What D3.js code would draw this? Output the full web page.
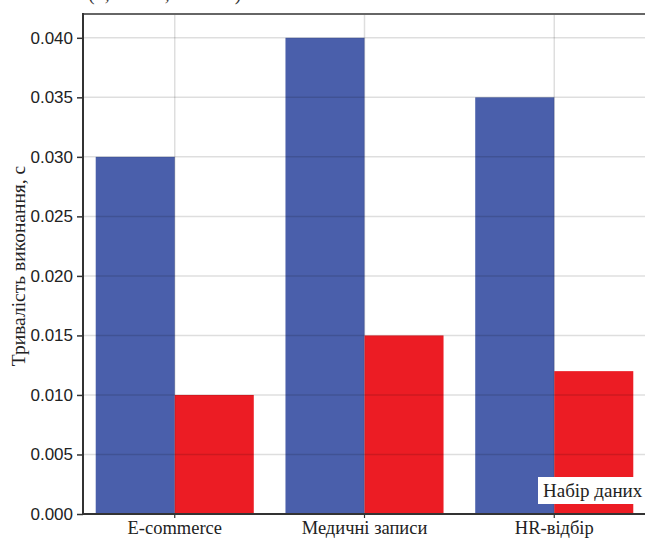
<!DOCTYPE html>
<html>
<head>
<meta charset="utf-8">
<script src="https://cdn.jsdelivr.net/npm/d3@7"></script>
<style>
  html, body { margin: 0; padding: 0; background: #fff; }
  svg { display: block; }
</style>
</head>
<body>
<svg id="chart" width="645" height="539"></svg>
<script>
const categories = ["E-commerce", "Медичні записи", "HR-відбір"];
const seriesNames = ["Оригінальний", "Оптимізований"];
const seriesA = [0.030, 0.040, 0.035];
const seriesB = [0.010, 0.015, 0.012];
const yTicks = [0.000, 0.005, 0.010, 0.015, 0.020, 0.025, 0.030, 0.035, 0.040];
const colors = ["#4a5fab", "#ec1c24"];
const titleText = "(1, 10000, 100000)";
const yLabel = "Тривалість виконання, с";
const legendTitle = "Набір даних";

(function () {
const svg = d3.select("#chart");
const pLeft = 83, pRight = 646, pTop = 14, pBottom = 514;

const x = d3.scaleBand().domain(categories).range([pLeft, pRight])
  .paddingInner(0.167).paddingOuter(0.067);
const xs = d3.scaleBand().domain(seriesNames).range([0, x.bandwidth()]);
const y = d3.scaleLinear().domain([0, 0.042]).range([pBottom, pTop]);

const data = categories.map((c, i) => ({ cat: c, vals: [seriesA[i], seriesB[i]] }));

// bars
const g = svg.append("g");
data.forEach(d => {
  d.vals.forEach((v, j) => {
    g.append("rect")
      .attr("x", x(d.cat) + xs(seriesNames[j]))
      .attr("y", y(v))
      .attr("width", xs.bandwidth())
      .attr("height", y(0) - y(v))
      .attr("fill", colors[j]);
  });
});

// grid on top of bars
const grid = svg.append("g").attr("stroke", "rgba(0,0,0,0.13)").attr("stroke-width", 1.5);
yTicks.forEach(t => {
  grid.append("line").attr("x1", pLeft).attr("x2", 645).attr("y1", y(t)).attr("y2", y(t));
});
categories.forEach(c => {
  const cx = x(c) + x.bandwidth() / 2;
  grid.append("line").attr("x1", cx).attr("x2", cx).attr("y1", pTop).attr("y2", pBottom);
});

// y axis
const yAxis = d3.axisLeft(y).tickValues(yTicks).tickFormat(d3.format(".3f")).tickSize(6).tickPadding(4);
const yg = svg.append("g").attr("transform", `translate(${pLeft},0)`).call(yAxis);
yg.select(".domain").remove();
yg.selectAll(".tick line").attr("stroke", "#333").attr("stroke-width", 1.5);
yg.selectAll(".tick text").attr("font-family", "Liberation Sans, Arial, sans-serif")
  .attr("font-size", 17).attr("fill", "#222");

// x axis
const xAxis = d3.axisBottom(x).tickSize(4).tickPadding(3);
const xg = svg.append("g").attr("transform", `translate(0,${pBottom})`).call(xAxis);
xg.select(".domain").remove();
xg.selectAll(".tick line").attr("stroke", "#333").attr("stroke-width", 1.2);
xg.selectAll(".tick text").attr("font-family", "Liberation Serif, Times New Roman, serif")
  .attr("font-size", 18.5).attr("fill", "#222");

// spines
svg.append("line").attr("x1", pLeft).attr("x2", 645).attr("y1", pTop).attr("y2", pTop)
  .attr("stroke", "#666").attr("stroke-width", 2);
svg.append("line").attr("x1", pLeft).attr("x2", pLeft).attr("y1", pTop - 1).attr("y2", pBottom + 1)
  .attr("stroke", "#333").attr("stroke-width", 2);
svg.append("line").attr("x1", pLeft).attr("x2", 645).attr("y1", pBottom).attr("y2", pBottom)
  .attr("stroke", "#333").attr("stroke-width", 2);

// y label
svg.append("text")
  .attr("transform", `translate(25,${(pTop + pBottom) / 2 + 2}) rotate(-90)`)
  .attr("text-anchor", "middle")
  .attr("font-family", "Liberation Serif, Times New Roman, serif")
  .attr("font-size", 19.5).attr("fill", "#222")
  .text(yLabel);

// cropped title (only the descenders fall inside the picture)
svg.append("text").attr("x", 88).attr("y", 0)
  .attr("font-family", "Liberation Serif, Times New Roman, serif")
  .attr("font-size", 20).attr("fill", "#333")
  .text(titleText);

// legend (cropped)
svg.append("rect").attr("x", 538).attr("y", 477).attr("width", 120).attr("height", 27).attr("fill", "#fff");
svg.append("text").attr("x", 543).attr("y", 497)
  .attr("font-family", "Liberation Serif, Times New Roman, serif")
  .attr("font-size", 19).attr("fill", "#222")
  .text(legendTitle);
})();
</script>
</body>
</html>
